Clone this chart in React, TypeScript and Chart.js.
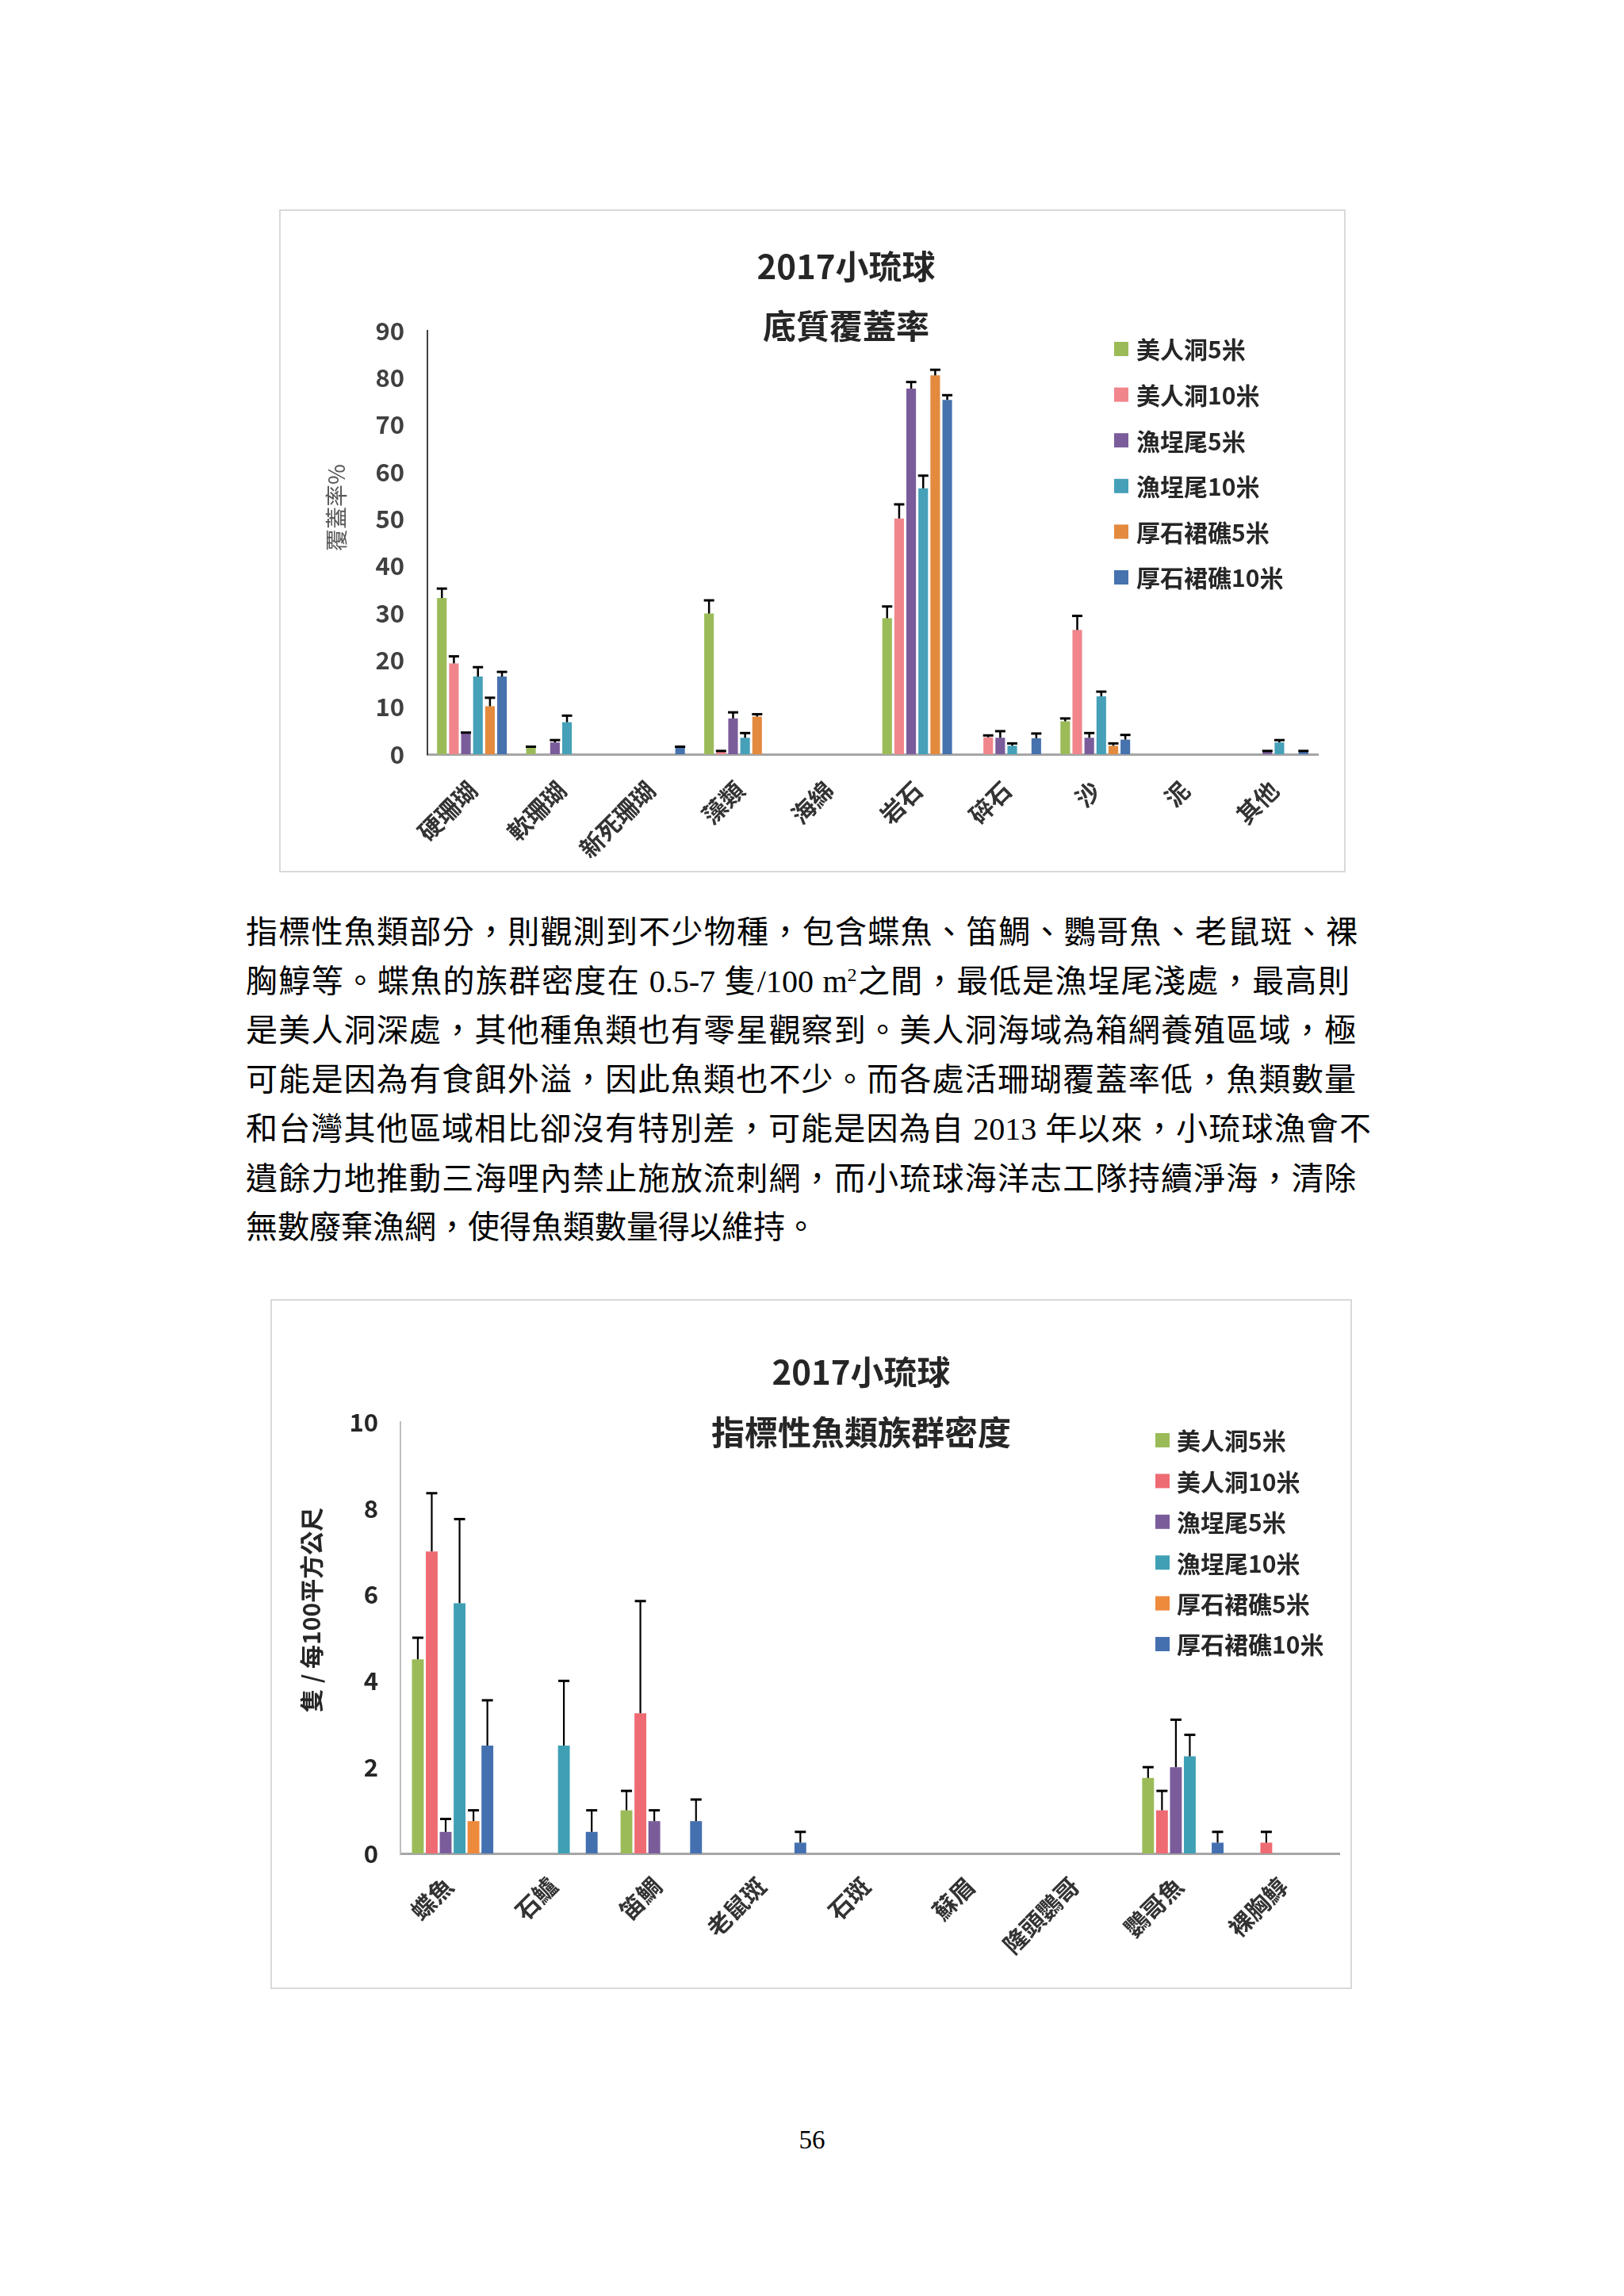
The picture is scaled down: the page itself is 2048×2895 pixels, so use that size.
import React, { useEffect, useRef } from 'react';
import { Chart, registerables } from 'chart.js';

Chart.register(...registerables);

// ---------- shared ----------
const SERIES_NAMES = ['美人洞5米', '美人洞10米', '漁埕尾5米', '漁埕尾10米', '厚石裙礁5米', '厚石裙礁10米'];

// ---------- chart 1: 底質覆蓋率 ----------
const SUB_TITLE = ['2017小琉球', '底質覆蓋率'];
const SUB_Y_TITLE = '覆蓋率%';
const SUB_CATEGORIES = ['硬珊瑚', '軟珊瑚', '新死珊瑚', '藻類', '海綿', '岩石', '碎石', '沙', '泥', '其他'];
const SUB_Y_TICKS = [0, 10, 20, 30, 40, 50, 60, 70, 80, 90];

const SUB_MR5 = [33.2, 1.4, 0, 29.9, 0, 28.9, 0, 7.0, 0, 0];
const SUB_MR10 = [19.3, 0, 0, 0.5, 0, 50.1, 3.6, 26.4, 0, 0];
const SUB_YC5 = [4.5, 2.5, 0, 7.6, 0, 77.7, 3.5, 3.5, 0, 0.6];
const SUB_YC10 = [16.5, 6.8, 0, 3.5, 0, 56.5, 1.8, 12.3, 0, 2.5];
const SUB_HS5 = [10.2, 0, 0, 8.0, 0, 80.5, 0, 1.8, 0, 0];
const SUB_HS10 = [16.5, 0, 1.4, 0, 0, 75.3, 3.4, 3.1, 0, 0.6];

const SUB_MR5_ERR = [2.0, 0.2, 0, 2.8, 0, 2.5, 0, 0.6, 0, 0];
const SUB_MR10_ERR = [1.5, 0, 0, 0.2, 0, 3.0, 0.4, 3.0, 0, 0];
const SUB_YC5_ERR = [0.1, 0.5, 0, 1.3, 0, 1.4, 1.4, 1.0, 0, 0.1];
const SUB_YC10_ERR = [2.0, 1.4, 0, 1.0, 0, 2.7, 0.5, 1.0, 0, 0.5];
const SUB_HS5_ERR = [1.8, 0, 0, 0.5, 0, 1.2, 0, 0.5, 0, 0];
const SUB_HS10_ERR = [1.0, 0, 0.2, 0, 0, 1.0, 1.0, 1.0, 0, 0.1];

// ---------- chart 2: 指標性魚類族群密度 ----------
const FISH_TITLE = ['2017小琉球', '指標性魚類族群密度'];
const FISH_Y_TITLE = '隻 / 每100平方公尺';
const FISH_CATEGORIES = ['蝶魚', '石鱸', '笛鯛', '老鼠斑', '石斑', '蘇眉', '隆頭鸚哥', '鸚哥魚', '裸胸鯙'];
const FISH_Y_TICKS = [0, 2, 4, 6, 8, 10];

const FISH_MR5 = [4.5, 0, 1.0, 0, 0, 0, 0, 1.75, 0];
const FISH_MR10 = [7.0, 0, 3.25, 0, 0, 0, 0, 1.0, 0.25];
const FISH_YC5 = [0.5, 0, 0.75, 0, 0, 0, 0, 2.0, 0];
const FISH_YC10 = [5.8, 2.5, 0, 0, 0, 0, 0, 2.25, 0];
const FISH_HS5 = [0.75, 0, 0, 0, 0, 0, 0, 0, 0];
const FISH_HS10 = [2.5, 0.5, 0.75, 0.25, 0, 0, 0, 0.25, 0];

const FISH_MR5_ERR = [0.5, 0, 0.45, 0, 0, 0, 0, 0.25, 0];
const FISH_MR10_ERR = [1.35, 0, 2.6, 0, 0, 0, 0, 0.45, 0.25];
const FISH_YC5_ERR = [0.3, 0, 0.25, 0, 0, 0, 0, 1.1, 0];
const FISH_YC10_ERR = [1.95, 1.5, 0, 0, 0, 0, 0, 0.5, 0];
const FISH_HS5_ERR = [0.25, 0, 0, 0, 0, 0, 0, 0, 0];
const FISH_HS10_ERR = [1.05, 0.5, 0.5, 0.25, 0, 0, 0, 0.25, 0];

// ---------- page text ----------
const PAGE_NUMBER = '56';

const CJK = '"Noto Sans CJK TC", "Noto Sans CJK JP", sans-serif';

const COLORS_1 = ['#9BBB59', '#F0868C', '#7A5C9B', '#45A0B8', '#E38A3E', '#4672AE'];
const COLORS_2 = ['#9BBB59', '#EF6B73', '#7A5C9B', '#3FA0B5', '#EE8A3C', '#4470B0'];

const errorBarPlugin = {
  id: 'errorBars',
  afterDatasetsDraw(chart: any, _args: any, opts: any) {
    const ctx = chart.ctx;
    const y = chart.scales.y;
    ctx.save();
    ctx.strokeStyle = opts.color || '#000';
    ctx.lineWidth = opts.lineWidth || 2;
    chart.data.datasets.forEach((ds: any, d: number) => {
      const meta = chart.getDatasetMeta(d);
      (ds.errors || []).forEach((e: number, i: number) => {
        const v = ds.data[i];
        if (!e || e <= 0) return;
        const el = meta.data[i];
        const x = el.x;
        const y0 = y.getPixelForValue(v);
        const y1 = y.getPixelForValue(v + e);
        ctx.beginPath();
        ctx.moveTo(x, y0);
        ctx.lineTo(x, y1);
        ctx.stroke();
        ctx.save();
        ctx.lineWidth = opts.capWidth || 3;
        ctx.beginPath();
        ctx.moveTo(x - opts.capHalf, y1);
        ctx.lineTo(x + opts.capHalf, y1);
        ctx.stroke();
        ctx.restore();
      });
    });
    ctx.restore();
  },
};

const decorPlugin = {
  id: 'decor',
  afterDraw(chart: any, _args: any, opts: any) {
    const ctx = chart.ctx;
    ctx.save();
    ctx.textBaseline = 'middle';
    // titles
    ctx.textAlign = 'center';
    ctx.fillStyle = opts.titleColor;
    ctx.font = opts.titleFont;
    opts.titles.forEach((t: any) => ctx.fillText(t.text, t.x, t.y));
    // y-axis title
    ctx.save();
    ctx.translate(opts.yTitle.x, opts.yTitle.y);
    ctx.rotate(-Math.PI / 2);
    ctx.font = opts.yTitle.font;
    ctx.fillStyle = opts.yTitle.color;
    ctx.fillText(opts.yTitle.text, 0, 0);
    ctx.restore();
    // legend
    const lg = opts.legend;
    ctx.textAlign = 'left';
    ctx.font = lg.font;
    chart.data.datasets.forEach((ds: any, i: number) => {
      const cy = lg.y + i * lg.spacing;
      ctx.fillStyle = ds.backgroundColor;
      ctx.fillRect(lg.x, cy - lg.box / 2, lg.box, lg.box);
      ctx.fillStyle = lg.color;
      ctx.fillText(ds.label, lg.textX, cy + 1);
    });
    ctx.restore();
  },
};

function buildConfig(spec: any) {
  return {
    type: 'bar',
    data: {
      labels: spec.categories,
      datasets: SERIES_NAMES.map((name, i) => ({
        label: name,
        data: spec.values[i],
        errors: spec.errors[i],
        backgroundColor: spec.colors[i],
        borderWidth: 0,
        categoryPercentage: spec.catPct,
        barPercentage: spec.barPct,
      })),
    },
    options: {
      animation: false,
      responsive: false,
      devicePixelRatio: 1,
      layout: { padding: spec.padding },
      plugins: {
        legend: { display: false },
        title: { display: false },
        tooltip: { enabled: false },
        errorBars: spec.errorBars,
        decor: spec.decor,
      },
      scales: {
        x: {
          grid: { display: false, drawTicks: false },
          border: { display: true, color: '#A6A6A6', width: 3 },
          ticks: {
            autoSkip: false,
            minRotation: 45,
            maxRotation: 45,
            padding: spec.xPad,
            labelOffset: spec.xLabelOffset,
            color: '#333333',
            font: { family: CJK, size: 30, weight: 'bold' },
          },
          afterFit: (s: any) => {
            s.height = spec.xHeight;
          },
        },
        y: {
          min: spec.yTicks[0],
          max: spec.yTicks[spec.yTicks.length - 1],
          grid: { display: false, drawTicks: false },
          border: { display: true, color: spec.yBorderColor, width: 2 },
          ticks: {
            padding: spec.yPad,
            color: spec.tickColor,
            font: { family: CJK, size: 31, weight: 'bold' },
          },
          afterBuildTicks: (s: any) => {
            s.ticks = spec.yTicks.map((v: number) => ({ value: v }));
          },
          afterFit: (s: any) => {
            s.width = spec.yWidth;
          },
        },
      },
    },
    plugins: [errorBarPlugin, decorPlugin],
  };
}

const chart1Spec = {
  categories: SUB_CATEGORIES,
  values: [SUB_MR5, SUB_MR10, SUB_YC5, SUB_YC10, SUB_HS5, SUB_HS10],
  errors: [SUB_MR5_ERR, SUB_MR10_ERR, SUB_YC5_ERR, SUB_YC10_ERR, SUB_HS5_ERR, SUB_HS10_ERR],
  colors: COLORS_1,
  catPct: 0.81,
  barPct: 0.8,
  padding: { left: 0, right: 35, top: 153, bottom: 0 },
  xHeight: 149,
  xPad: 27,
  xLabelOffset: 1,
  yTicks: SUB_Y_TICKS,
  yWidth: 187,
  yPad: 29,
  yBorderColor: '#404040',
  tickColor: '#404040',
  errorBars: { color: '#000', lineWidth: 2.5, capWidth: 3, capHalf: 6.5 },
  decor: {
    titleFont: `bold 42px ${CJK}`,
    titleColor: '#262626',
    titles: [
      { text: SUB_TITLE[0], x: 715, y: 72 },
      { text: SUB_TITLE[1], x: 715, y: 147 },
    ],
    yTitle: { text: SUB_Y_TITLE, x: 72, y: 376, font: `28px ${CJK}`, color: '#595959' },
    legend: { x: 1053, textX: 1081, y: 176, spacing: 57.6, box: 18, font: `bold 30px ${CJK}`, color: '#262626' },
  },
};

const chart2Spec = {
  categories: FISH_CATEGORIES,
  values: [FISH_MR5, FISH_MR10, FISH_YC5, FISH_YC10, FISH_HS5, FISH_HS10],
  errors: [FISH_MR5_ERR, FISH_MR10_ERR, FISH_YC5_ERR, FISH_YC10_ERR, FISH_HS5_ERR, FISH_HS10_ERR],
  colors: COLORS_2,
  catPct: 0.8,
  barPct: 0.85,
  padding: { left: 0, right: 16, top: 155, bottom: 0 },
  xHeight: 171,
  xPad: 23,
  xLabelOffset: -5,
  yTicks: FISH_Y_TICKS,
  yWidth: 164,
  yPad: 28,
  yBorderColor: '#BFBFBF',
  tickColor: '#262626',
  errorBars: { color: '#000', lineWidth: 2.2, capWidth: 3, capHalf: 7 },
  decor: {
    titleFont: `bold 42px ${CJK}`,
    titleColor: '#262626',
    titles: [
      { text: FISH_TITLE[0], x: 745, y: 92 },
      { text: FISH_TITLE[1], x: 745, y: 168 },
    ],
    yTitle: { text: FISH_Y_TITLE, x: 52, y: 392, font: `bold 30px ${CJK}`, color: '#262626' },
    legend: { x: 1116, textX: 1143, y: 178, spacing: 51.4, box: 18, font: `bold 30px ${CJK}`, color: '#262626' },
  },
};

function ChartBox({ spec, left, top, width, height }: any) {
  const ref = useRef<HTMLCanvasElement | null>(null);
  useEffect(() => {
    if (!ref.current) return;
    const chart = new Chart(ref.current, buildConfig(spec) as any);
    return () => chart.destroy();
  }, []);
  return (
    <>
      <canvas
        ref={ref}
        width={width}
        height={height}
        style={{ position: 'absolute', left, top, width, height }}
      />
      <div
        style={{
          position: 'absolute',
          left,
          top,
          width,
          height,
          boxSizing: 'border-box',
          border: '2px solid #D9D9D9',
          pointerEvents: 'none',
        }}
      />
    </>
  );
}

const TEXT_FONT = '"Liberation Serif", "Noto Sans CJK TC", serif';

const lineStyle = (cy: number, width: number): React.CSSProperties => ({
  position: 'absolute',
  left: 310,
  top: cy - 31,
  width,
  height: 62,
  lineHeight: '62px',
  fontSize: 40,
  fontFamily: TEXT_FONT,
  color: '#000',
  textAlign: 'justify',
  textAlignLast: 'justify' as any,
  whiteSpace: 'nowrap',
});

export default function App() {
  const lines: { cy: number; w: number; content: React.ReactNode; last?: boolean }[] = [
    { cy: 1176, w: 1402, content: '指標性魚類部分，則觀測到不少物種，包含蝶魚、笛鯛、鸚哥魚、老鼠斑、裸' },
    {
      cy: 1238,
      w: 1392,
      content: (
        <>
          胸鯙等。蝶魚的族群密度在 0.5-7 隻/100 m<sup style={{ fontSize: 24, lineHeight: 0 }}>2</sup>之間，最低是漁埕尾淺處，最高則
        </>
      ),
    },
    { cy: 1300, w: 1400, content: '是美人洞深處，其他種魚類也有零星觀察到。美人洞海域為箱網養殖區域，極' },
    { cy: 1362, w: 1400, content: '可能是因為有食餌外溢，因此魚類也不少。而各處活珊瑚覆蓋率低，魚類數量' },
    { cy: 1424, w: 1419, content: '和台灣其他區域相比卻沒有特別差，可能是因為自 2013 年以來，小琉球漁會不' },
    { cy: 1487, w: 1400, content: '遺餘力地推動三海哩內禁止施放流刺網，而小琉球海洋志工隊持續淨海，清除' },
    { cy: 1548, w: 1400, content: '無數廢棄漁網，使得魚類數量得以維持。', last: true },
  ];
  return (
    <div style={{ position: 'absolute', left: 0, top: 0, width: 2048, height: 2895, background: '#fff', overflow: 'hidden' }}>
      <ChartBox spec={chart1Spec} left={352} top={264} width={1345} height={836} />
      {lines.map((l, i) => (
        <div
          key={i}
          style={{
            ...lineStyle(l.cy, l.w),
            ...(l.last ? { textAlign: 'left', textAlignLast: 'left' as any } : {}),
          }}
        >
          {l.content}
        </div>
      ))}
      <ChartBox spec={chart2Spec} left={341} top={1638} width={1364} height={870} />
      <div
        style={{
          position: 'absolute',
          left: 924,
          top: 2678,
          width: 200,
          textAlign: 'center',
          fontFamily: '"Liberation Serif", serif',
          fontSize: 33,
          lineHeight: '40px',
        }}
      >
        {PAGE_NUMBER}
      </div>
    </div>
  );
}
